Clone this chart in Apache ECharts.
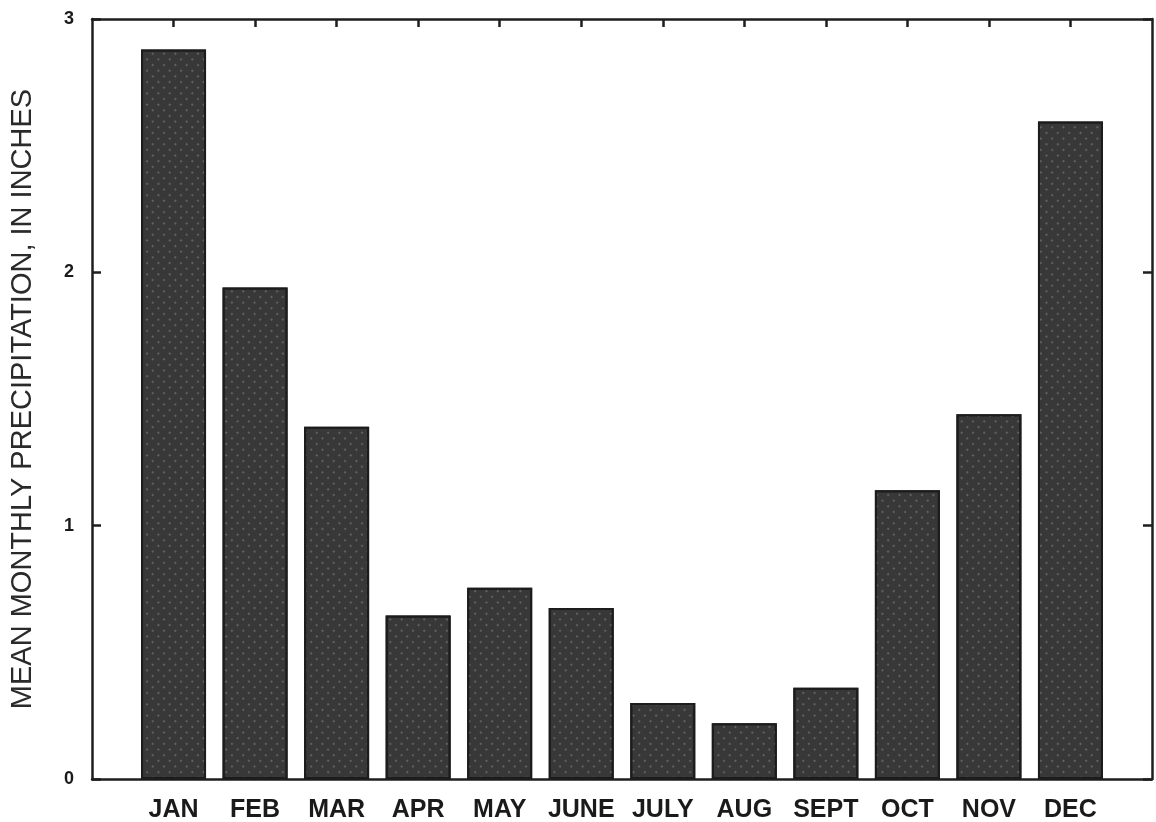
<!DOCTYPE html>
<html>
<head>
<meta charset="utf-8">
<script src="https://cdn.jsdelivr.net/npm/echarts@6/dist/echarts.min.js"></script>
<style>
html,body{margin:0;padding:0;background:#fff;}
#chart{width:1156px;height:822px;}
</style>
</head>
<body>
<div id="chart"></div>
<script>
var months = ['JAN','FEB','MAR','APR','MAY','JUNE','JULY','AUG','SEPT','OCT','NOV','DEC'];
var precipitation = [2.88, 1.94, 1.39, 0.645, 0.755, 0.675, 0.30, 0.22, 0.36, 1.14, 1.44, 2.595];
var yTicks = [0, 1, 2, 3];
var yTitle = 'MEAN MONTHLY PRECIPITATION, IN INCHES';

// pad one empty slot on each side so the months sit inside the frame
var axisCats = [''].concat(months, ['']);
var barData = [null].concat(precipitation, [null]);

var chart = echarts.init(document.getElementById('chart'));
var frameColor = '#1e1e1e';
var fontFamily = '"Liberation Sans", Arial, Helvetica, sans-serif';

chart.setOption({
  backgroundColor: '#ffffff',
  animation: false,
  grid: {left: 92, right: 4, top: 19, bottom: 43, containLabel: false, outerBoundsMode: 'none'},
  xAxis: [{
    type: 'category',
    data: axisCats,
    boundaryGap: false,
    position: 'bottom',
    axisLine: {show: true, onZero: false, lineStyle: {color: frameColor, width: 2.5}},
    axisTick: {show: false},
    axisLabel: {
      color: '#1a1a1a', fontSize: 25, fontWeight: 'bold', fontFamily: fontFamily, margin: 19,
      interval: 0
    },
    splitLine: {show: false}
  }, {
    type: 'category',
    data: axisCats,
    boundaryGap: false,
    position: 'top',
    axisLine: {show: true, onZero: false, lineStyle: {color: frameColor, width: 2.5}},
    axisTick: {
      show: true, inside: true, length: 8,
      lineStyle: {color: frameColor, width: 2.5},
      interval: function (i) { return i > 0 && i < axisCats.length - 1; }
    },
    axisLabel: {show: false},
    splitLine: {show: false}
  }],
  yAxis: [{
    type: 'value',
    min: yTicks[0], max: yTicks[yTicks.length - 1], interval: 1,
    position: 'left',
    name: yTitle,
    nameLocation: 'middle',
    nameGap: 55,
    nameRotate: 90,
    nameTextStyle: {color: '#2a2a2a', fontSize: 29, fontFamily: fontFamily},
    axisLine: {show: true, onZero: false, lineStyle: {color: frameColor, width: 2.5}},
    axisTick: {show: true, inside: true, length: 9, lineStyle: {color: frameColor, width: 2.5}},
    axisLabel: {color: '#1a1a1a', fontSize: 18, fontWeight: 'bold', fontFamily: fontFamily, margin: 18},
    splitLine: {show: false}
  }, {
    type: 'value',
    min: yTicks[0], max: yTicks[yTicks.length - 1], interval: 1,
    position: 'right',
    axisLine: {show: true, onZero: false, lineStyle: {color: frameColor, width: 2.5}},
    axisTick: {show: true, inside: true, length: 9, lineStyle: {color: frameColor, width: 2.5}},
    axisLabel: {show: false},
    splitLine: {show: false}
  }],
  series: [{
    type: 'bar',
    data: barData,
    xAxisIndex: 0,
    yAxisIndex: 0,
    barWidth: 65,
    itemStyle: {
      color: '#383838',
      borderColor: '#1c1c1c',
      borderWidth: 2,
      decal: {
        symbol: 'circle',
        symbolSize: 0.55,
        dashArrayX: 4,
        dashArrayY: 4,
        rotation: Math.PI / 4,
        color: 'rgba(180,180,180,0.4)'
      }
    },
    emphasis: {disabled: true},
    z: 1
  }]
});
</script>
</body>
</html>
